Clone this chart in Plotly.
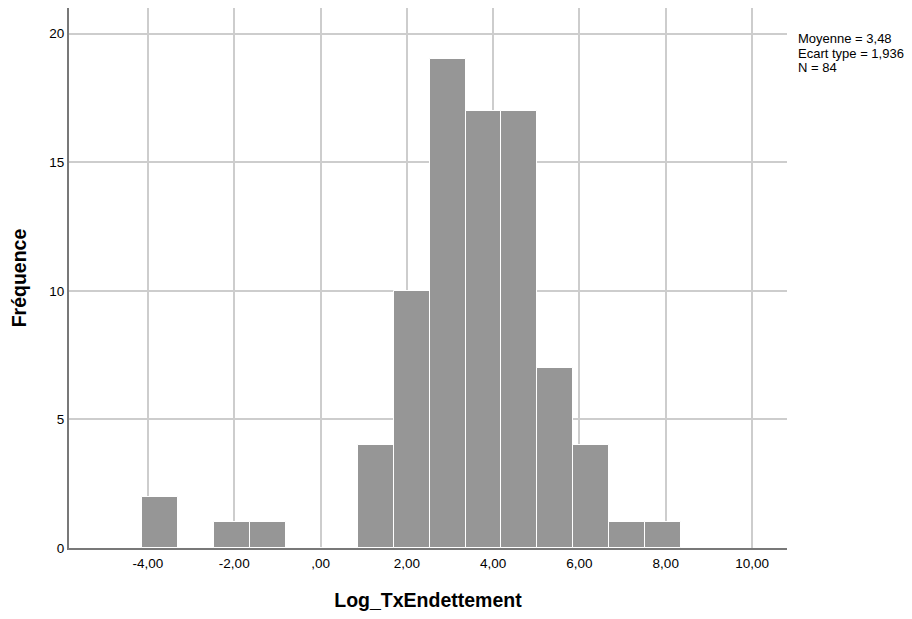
import plotly.graph_objects as go

# Histogram data (bin edges)
first_edge = -4.128
bin_width = 0.832
counts = [2, 0, 1, 1, 0, 0, 4, 10, 19, 17, 17, 7, 4, 1, 1]

x_tick_vals = [-4, -2, 0, 2, 4, 6, 8, 10]
x_tick_text = ["-4,00", "-2,00", ",00", "2,00", "4,00", "6,00", "8,00", "10,00"]
y_tick_vals = [0, 5, 10, 15, 20]
y_tick_text = ["0", "5", "10", "15", "20"]

stats_lines = ["Moyenne = 3,48", "Ecart type = 1,936", "N = 84"]

centers = [first_edge + bin_width * (i + 0.5) for i in range(len(counts))]

fig = go.Figure()
fig.add_trace(go.Bar(
    x=centers, y=counts, width=bin_width,
    marker=dict(color="rgb(150,150,150)", line=dict(color="white", width=1)),
    hoverinfo="x+y",
))

font_family = "Liberation Sans, Arial, sans-serif"
plot_h = 540
line_step = 14.3 / plot_h
annotations = []
for i, line in enumerate(stats_lines):
    annotations.append(dict(
        text=line, xref="paper", yref="paper",
        x=1.0121, y=0.9602 - i * line_step, xanchor="left", yanchor="top",
        align="left", showarrow=False,
        font=dict(size=13, family=font_family, color="black"),
    ))

fig.update_layout(
    width=904, height=611,
    margin=dict(l=61, r=125, t=0, b=71),
    plot_bgcolor="white", paper_bgcolor="white",
    showlegend=False,
    bargap=0,
    font=dict(family=font_family, color="black", size=13.5),
    xaxis=dict(
        range=[-5.83, 10.81],
        tickmode="array", tickvals=x_tick_vals, ticktext=x_tick_text,
        showgrid=True, gridcolor="rgb(205,205,205)", gridwidth=1.5,
        zeroline=False,
        showline=True, linecolor="rgb(120,120,120)", linewidth=2,
        ticks="outside", ticklen=2, tickcolor="rgba(0,0,0,0)",
        tickfont=dict(size=13.5),
        title=dict(text="<b>Log_TxEndettement</b>", font=dict(size=19.5), standoff=23),
    ),
    yaxis=dict(
        range=[0, 21.0],
        tickmode="array", tickvals=y_tick_vals, ticktext=y_tick_text,
        showgrid=True, gridcolor="rgb(205,205,205)", gridwidth=1.5,
        zeroline=False,
        showline=True, linecolor="rgb(120,120,120)", linewidth=2,
        ticks="", ticklen=0,
        tickfont=dict(size=13.5),
        title=dict(text="<b>Fréquence</b>", font=dict(size=19.5), standoff=20),
    ),
    annotations=annotations,
)

fig.write_html("out.html")
